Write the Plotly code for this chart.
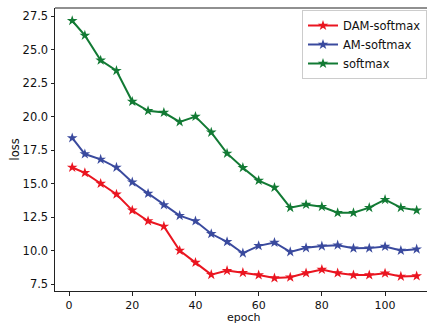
import plotly.graph_objects as go

epochs = [1, 5, 10, 15, 20, 25, 30, 35, 40, 45, 50, 55, 60, 65, 70, 75, 80, 85, 90, 95, 100, 105, 110]
dam_softmax = [16.2, 15.8, 15.0, 14.2, 13.0, 12.2, 11.8, 10.0, 9.1, 8.2, 8.5, 8.35, 8.17, 7.95, 8.0, 8.32, 8.58, 8.32, 8.17, 8.17, 8.3, 8.07, 8.1]
am_softmax = [18.4, 17.2, 16.8, 16.2, 15.1, 14.25, 13.4, 12.6, 12.2, 11.25, 10.65, 9.8, 10.35, 10.6, 9.9, 10.2, 10.33, 10.4, 10.17, 10.18, 10.3, 10.0, 10.1]
softmax = [27.15, 26.05, 24.2, 23.42, 21.12, 20.43, 20.3, 19.6, 20.0, 18.82, 17.25, 16.18, 15.22, 14.7, 13.2, 13.43, 13.27, 12.82, 12.82, 13.2, 13.8, 13.2, 13.0]

series_names = ["DAM-softmax", "AM-softmax", "softmax"]
series_colors = ["#ea1520", "#3a4a9e", "#127a34"]
y_ticks = [7.5, 10.0, 12.5, 15.0, 17.5, 20.0, 22.5, 25.0, 27.5]
x_ticks = [0, 20, 40, 60, 80, 100]

W, H = 428, 325
L, R, T, B = 55, 427, 8, 291

fig = go.Figure()
for name, vals, col in zip(series_names, [dam_softmax, am_softmax, softmax], series_colors):
    fig.add_trace(go.Scatter(
        x=epochs, y=vals, name=name, mode="lines+markers",
        line=dict(color=col, width=2),
        marker=dict(symbol="star", size=8, color=col, line=dict(width=0)),
    ))

font = dict(family="DejaVu Sans", size=11.5, color="#111")
small = dict(family="DejaVu Sans", size=11, color="#111")
fig.update_layout(
    width=W, height=H,
    margin=dict(l=L, r=W - R, t=T, b=H - B, pad=0),
    paper_bgcolor="white", plot_bgcolor="white",
    font=font,
    showlegend=True,
    legend=dict(
        x=1, y=1 - (10 - T) / (B - T), xanchor="right", yanchor="top",
        bgcolor="rgba(255,255,255,0.85)", bordercolor="#cccccc", borderwidth=1,
        font=font, itemwidth=30, tracegroupgap=0,
    ),
    xaxis=dict(
        range=[-4.45, -4.45 + (R - L) / 3.16], tickvals=x_ticks,
        ticktext=[str(v) for v in x_ticks],
        showgrid=False, zeroline=False, showline=True, linecolor="#222", linewidth=1,
        ticks="outside", ticklen=3.5, tickcolor="#222", tickwidth=1,
        tickfont=small,
    ),
    yaxis=dict(
        range=[6.98, 28.1], tickvals=y_ticks,
        ticktext=[f"{v:.1f}" for v in y_ticks],
        showgrid=False, zeroline=False, showline=True, linecolor="#222", linewidth=1,
        ticks="outside", ticklen=3.5, tickcolor="#222", tickwidth=1,
        tickfont=font,
    ),
    shapes=[dict(type="line", xref="paper", yref="paper", x0=0, x1=1, y0=1, y1=1,
                 layer="above", line=dict(color="#222", width=1.2))],
    annotations=[
        dict(text="epoch", xref="paper", yref="paper",
             x=(244 - L) / (R - L), y=-(325 - B) / (B - T),
             xanchor="center", yanchor="bottom", showarrow=False, font=small, borderpad=0),
        dict(text="loss", xref="paper", yref="paper", textangle=-90,
             x=-(L - 14) / (R - L), y=0.5,
             xanchor="center", yanchor="middle", showarrow=False, font=font),
    ],
)

fig.write_html("out.html")
